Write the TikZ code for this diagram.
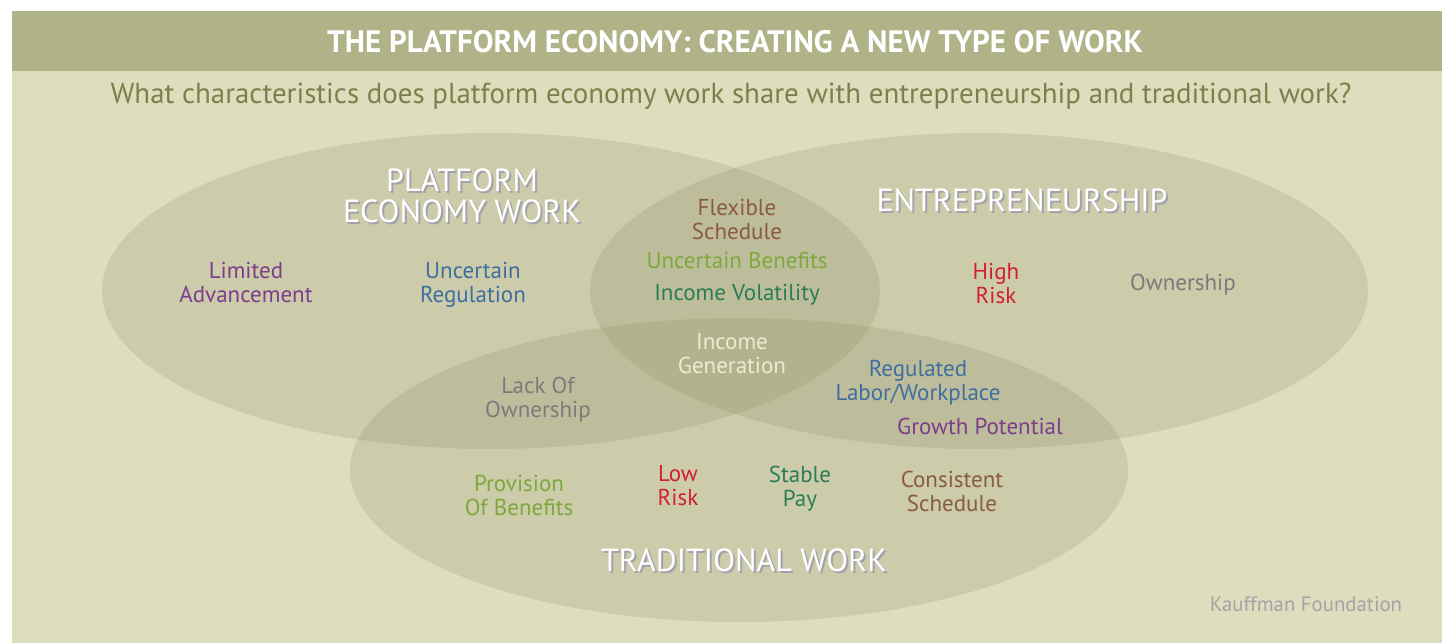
\documentclass[tikz,border=0pt]{standalone}
\usepackage{fontspec}
\setmainfont{PT Sans}

\definecolor{bandolive}{HTML}{B0B287}
\definecolor{paleolive}{HTML}{DEDDBE}
\definecolor{blobolive}{HTML}{8E8E66}
\definecolor{subolive}{HTML}{7E7F4A}
\definecolor{itpurple}{HTML}{7D3C8C}
\definecolor{itblue}{HTML}{3F6FA0}
\definecolor{itbrown}{HTML}{8A5C3C}
\definecolor{itlime}{HTML}{7FA83C}
\definecolor{itgreen}{HTML}{2A7D55}
\definecolor{itred}{HTML}{D2202F}
\definecolor{itgray}{HTML}{7A7B7D}
\definecolor{itcream}{HTML}{EEECCF}
\definecolor{shadowgray}{HTML}{A3A3AA}

\begin{document}
\begin{tikzpicture}[x=0.5pt,y=-0.5pt,
    blob/.style={fill=blobolive, fill opacity=0.22},
    item/.style={align=center, font=\fontsize{11.5}{12}\selectfont},
    setname/.style={align=center, text=white, font=\fontsize{16}{15.5}\selectfont},
    setshadow/.style={setname, text=shadowgray}]

    % Page size and backgrounds
    \useasboundingbox (0,0) rectangle (1442,643);
    \fill[paleolive] (12,71) rectangle (1442,643);
    \fill[bandolive] (12,11) rectangle (1442,71);

    % Title and question
    \node[text=white, font=\bfseries\fontsize{15.5}{15.5}\selectfont] (title) at (735,42) {THE PLATFORM ECONOMY: CREATING A NEW TYPE OF WORK};
    \node[text=subolive, font=\fontsize{14.45}{14.45}\selectfont] (question) at (731,96) {What characteristics does platform economy work share with entrepreneurship and traditional work?};

    % The three sets
    \fill[blob] (491,291) ellipse [x radius=389, y radius=158]; % platform
    \fill[blob] (979,291) ellipse [x radius=389, y radius=158]; % entrepreneurship
    \fill[blob] (739,470) ellipse [x radius=389, y radius=152]; % traditional

    % Set names (white with a grey drop shadow)
    \node[setshadow] (platform-sh) at (464,198) {PLATFORM\\ECONOMY WORK};
    \node[setname] (platform) at (462,196) {PLATFORM\\ECONOMY WORK};
    \node[setshadow] (entre-sh) at (1024,202) {ENTREPRENEURSHIP};
    \node[setname] (entre) at (1022,200) {ENTREPRENEURSHIP};
    \node[setshadow] (trad-sh) at (746,562) {TRADITIONAL WORK};
    \node[setname] (trad) at (744,560) {TRADITIONAL WORK};

    % Platform only
    \node[item, text=itpurple] (limited) at (246,282) {Limited\\Advancement};
    \node[item, text=itblue] (uncreg) at (473,285) {Uncertain\\Regulation};

    % Platform and entrepreneurship
    \node[item, text=itbrown] (flexible) at (737,219) {Flexible\\Schedule};
    \node[item, text=itlime] (uncben) at (737,260) {Uncertain Benefits};
    \node[item, text=itgreen] (volatility) at (737,295) {Income Volatility};

    % Entrepreneurship only
    \node[item, text=itred] (highrisk) at (996,283) {High\\Risk};
    \node[item, text=itgray] (ownership) at (1183,285) {Ownership};

    % All three
    \node[item, text=itcream] (incgen) at (732,354) {Income\\Generation};

    % Platform and traditional
    \node[item, text=itgray] (lackown) at (538,400) {Lack Of\\Ownership};

    % Entrepreneurship and traditional
    \node[item, text=itblue] (reglabor) at (918,383) {Regulated\\Labor/Workplace};
    \node[item, text=itpurple] (growth) at (980,426) {Growth Potential};

    % Traditional only
    \node[item, text=itlime] (provision) at (519,495) {Provision\\Of Benefits};
    \node[item, text=itred] (lowrisk) at (678,486) {Low\\Risk};
    \node[item, text=itgreen] (stable) at (800,489) {Stable\\Pay};
    \node[item, text=itbrown] (consistent) at (952,491) {Consistent\\Schedule};

    % Source
    \node[text=shadowgray, font=\fontsize{10.4}{10.4}\selectfont] (source) at (1306,604) {Kauffman Foundation};

\end{tikzpicture}
\end{document}
